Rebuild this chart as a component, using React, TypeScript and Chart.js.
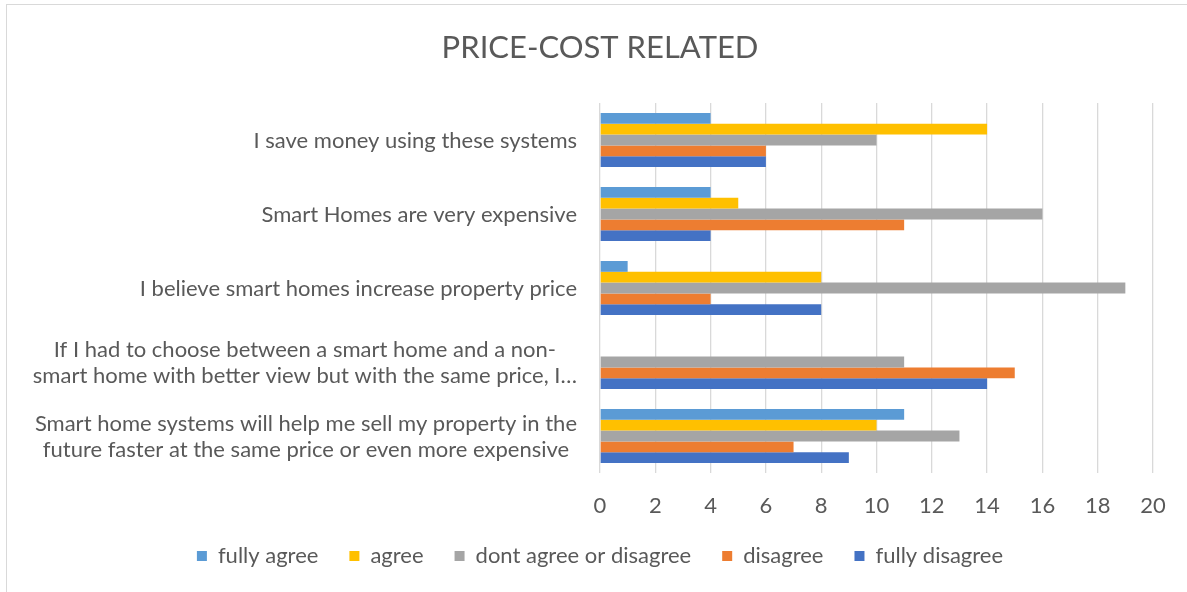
import React, { useEffect, useRef } from "react";
import { Chart, registerables } from "chart.js";

Chart.register(...registerables);

const categories: string[][] = [
  ["I save money using these systems"],
  ["Smart Homes are very expensive"],
  ["I believe smart homes increase property price"],
  ["If I had to choose between a smart home and a non-", "smart home with better view but with the same price, I…"],
  ["Smart home systems will help me sell my property in the", "future faster at the same price or even more expensive"],
];

const seriesNames = ["fully agree", "agree", "dont agree or disagree", "disagree", "fully disagree"];
const fullyAgree = [4, 4, 1, 0, 11];
const agree = [14, 5, 8, 0, 10];
const neutral = [10, 16, 19, 11, 13];
const disagree = [6, 11, 4, 15, 7];
const fullyDisagree = [6, 4, 8, 14, 9];
const seriesColors = ["#5B9BD5", "#FFC000", "#A5A5A5", "#ED7D31", "#4472C4"];

const xMin = 0;
const xMax = 20;
const xStep = 2;

const FONT = "Lato, 'Noto Sans', sans-serif";
const TEXT = "#595959";
const FS = 22;

export default function App() {
  const ref = useRef<HTMLCanvasElement | null>(null);

  useEffect(() => {
    if (!ref.current) return;
    const values = [fullyAgree, agree, neutral, disagree, fullyDisagree];

    const frame = {
      id: "frame",
      beforeDraw(chart: any) {
        const ctx = chart.ctx;
        ctx.save();
        ctx.strokeStyle = "#d9d9d9";
        ctx.lineWidth = 1;
        ctx.strokeRect(6.5, 4.5, 1300, 700);
        ctx.restore();
      },
    };

    const yLabels = {
      id: "yLabels",
      afterDraw(chart: any) {
        const ctx = chart.ctx;
        const ys = chart.scales.y;
        const right = chart.chartArea.left - 23;
        ctx.save();
        ctx.font = `${FS}px ${FONT}`;
        ctx.fillStyle = TEXT;
        ctx.textBaseline = "middle";
        ctx.textAlign = "center";
        categories.forEach((lines, i) => {
          const py = ys.getPixelForValue(i) + 1;
          const w = Math.max(...lines.map((l) => ctx.measureText(l).width));
          const cx = right - w / 2;
          lines.forEach((l, j) => {
            ctx.fillText(l, cx, py + (j - (lines.length - 1) / 2) * 26);
          });
        });
        ctx.restore();
      },
    };

    const chart = new Chart(ref.current, {
      type: "bar",
      data: {
        labels: categories.map((c) => c.join(" ")),
        datasets: seriesNames.map((name, k) => ({
          label: name,
          data: values[k],
          backgroundColor: seriesColors[k],
          borderWidth: 0,
          categoryPercentage: 0.73,
          barPercentage: 1.0,
        })),
      },
      options: {
        indexAxis: "y",
        animation: false,
        responsive: false,
        layout: { padding: { left: 47, right: 34, top: 0, bottom: 15 } },
        scales: {
          x: {
            min: xMin,
            max: xMax,
            ticks: {
              stepSize: xStep,
              color: TEXT,
              font: { family: FONT, size: FS },
              padding: 20,
            },
            grid: { color: "#d9d9d9", lineWidth: 1.3, drawTicks: false },
            border: { display: false },
            afterFit: (s: any) => {
              s.height = 41;
            },
          },
          y: {
            ticks: { display: false },
            grid: { display: false },
            border: { display: false },
            afterFit: (s: any) => {
              s.width = 553;
            },
          },
        },
        plugins: {
          title: {
            display: true,
            text: "PRICE-COST RELATED",
            color: TEXT,
            font: { family: FONT, size: 31, weight: "normal" },
            padding: { top: 29.5, bottom: 36.3 },
          },
          legend: {
            position: "bottom",
            labels: {
              color: TEXT,
              font: { family: FONT, size: FS },
              boxWidth: 10,
              boxHeight: 10,
              padding: 31,
            },
          },
          tooltip: { enabled: false },
        },
      },
      plugins: [frame, yLabels],
    });
    return () => chart.destroy();
  }, []);

  return (
    <div style={{ position: "fixed", left: 0, top: 0, width: 1187, height: 592, background: "#fff" }}>
      <canvas ref={ref} width={1187} height={592} style={{ width: 1187, height: 592 }} />
    </div>
  );
}
